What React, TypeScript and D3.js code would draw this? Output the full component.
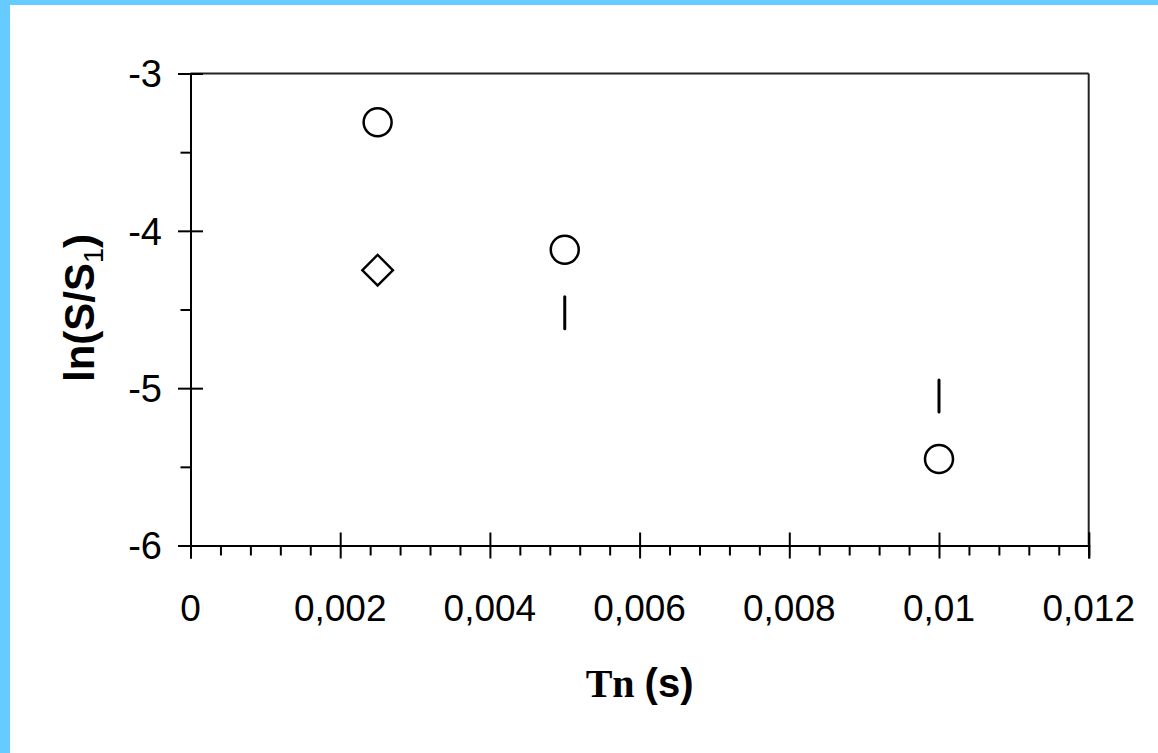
import React, { useEffect, useRef } from 'react';
import * as d3 from 'd3';

// values
const xTicks = [0, 0.002, 0.004, 0.006, 0.008, 0.01, 0.012];
const xTickLabels = ['0', '0,002', '0,004', '0,006', '0,008', '0,01', '0,012'];
const yTicks = [-3, -4, -5, -6];
const yMinorTicks = [-3.5, -4.5, -5.5];

const circleX = [0.0025, 0.005, 0.01];
const circleY = [-3.31, -4.12, -5.45];
const diamondX = [0.0025];
const diamondY = [-4.25];
const barX = [0.005, 0.01];
const barY = [-4.52, -5.05];

const App: React.FC = () => {
  const svgRef = useRef<SVGSVGElement>(null);

  useEffect(() => {
    if (!svgRef.current) return;
    const svg = d3.select(svgRef.current);
    svg.selectAll('*').remove();

    const width = 1158;
    const height = 753;

    // blue frame on the left and top
    svg.append('rect').attr('width', width).attr('height', height).attr('fill', '#66CCFF');
    svg.append('rect').attr('x', 10).attr('y', 5).attr('width', width - 10).attr('height', height - 5).attr('fill', '#fff');

    const x = d3.scaleLinear().domain([0, 0.012]).range([190.5, 1088.7]);
    const y = d3.scaleLinear().domain([-6, -3]).range([545.5, 73.5]);

    const g = svg.append('g');

    // box: top and right
    g.append('line')
      .attr('x1', x(0)).attr('x2', x(0.012))
      .attr('y1', y(-3)).attr('y2', y(-3))
      .attr('stroke', '#222').attr('stroke-width', 2);
    g.append('line')
      .attr('x1', x(0.012)).attr('x2', x(0.012))
      .attr('y1', y(-3)).attr('y2', y(-6))
      .attr('stroke', '#222').attr('stroke-width', 2);

    // y axis
    const yAxis = g.append('g').attr('transform', `translate(${x(0)},0)`);
    yAxis.call(d3.axisLeft(y).tickValues(yTicks).tickSize(12.5).tickFormat(() => ''));
    yAxis.append('g').call(d3.axisRight(y).tickValues(yTicks).tickSize(12.5).tickFormat(() => ''));
    yAxis.append('g').call(d3.axisLeft(y).tickValues(yMinorTicks).tickSize(10).tickFormat(() => ''));
    yAxis.selectAll('.domain').attr('stroke', '#000').attr('stroke-width', 2);
    yAxis.selectAll('.tick line').attr('stroke', '#000').attr('stroke-width', 2);

    g.selectAll('.ylab')
      .data(yTicks)
      .enter()
      .append('text')
      .attr('class', 'ylab')
      .attr('x', 162)
      .attr('y', d => y(d))
      .attr('dy', '0.36em')
      .attr('text-anchor', 'end')
      .attr('font-family', '"Liberation Sans", Arial, sans-serif')
      .attr('font-size', 38)
      .text(d => `${d}`);

    // x axis
    const xMinor = d3.range(0, 31).map(i => i * 0.0004).filter((_, i) => i % 5 !== 0);
    const xAxis = g.append('g').attr('transform', `translate(0,${y(-6)})`);
    xAxis.call(d3.axisBottom(x).tickValues(xTicks).tickSize(13).tickFormat(() => ''));
    xAxis.append('g').call(d3.axisTop(x).tickValues(xTicks).tickSize(13).tickFormat(() => ''));
    xAxis.append('g').call(d3.axisBottom(x).tickValues(xMinor).tickSize(10).tickFormat(() => ''));
    xAxis.selectAll('.domain').attr('stroke', '#000').attr('stroke-width', 2);
    xAxis.selectAll('.tick line').attr('stroke', '#000').attr('stroke-width', 2);

    g.selectAll('.xlab')
      .data(xTicks)
      .enter()
      .append('text')
      .attr('class', 'xlab')
      .attr('x', d => x(d))
      .attr('y', 621)
      .attr('text-anchor', 'middle')
      .attr('font-family', '"Liberation Sans", Arial, sans-serif')
      .attr('font-size', 37)
      .text((_, i) => xTickLabels[i]);

    // axis titles
    const xt = g.append('text')
      .attr('x', 639.6)
      .attr('y', 697)
      .attr('text-anchor', 'middle')
      .attr('font-weight', 'bold')
      .attr('font-size', 40);
    xt.append('tspan').attr('font-family', '"Liberation Serif", "Times New Roman", serif').text('Tn ');
    xt.append('tspan').attr('font-family', '"Liberation Sans", Arial, sans-serif').text('(s)');

    const yt = g.append('text')
      .attr('transform', `translate(94,308) rotate(-90)`)
      .attr('text-anchor', 'middle')
      .attr('font-family', '"Liberation Sans", Arial, sans-serif')
      .attr('font-weight', 'bold')
      .attr('font-size', 42);
    yt.append('tspan').text('ln(S/S');
    yt.append('tspan').attr('font-size', 27).attr('font-weight', 'normal').attr('dy', 9).text('1');
    yt.append('tspan').attr('dy', -9).text(')');

    // markers
    g.selectAll('.circ')
      .data(circleX.map((cx, i) => ({ cx, cy: circleY[i] })))
      .enter()
      .append('circle')
      .attr('cx', d => x(d.cx))
      .attr('cy', d => y(d.cy))
      .attr('r', 14)
      .attr('fill', 'none')
      .attr('stroke', '#000')
      .attr('stroke-width', 2.5);

    const diamond = d3.symbol().type(d3.symbolSquare).size(17 * 17 * 2);
    g.selectAll('.dia')
      .data(diamondX.map((dx, i) => ({ dx, dy: diamondY[i] })))
      .enter()
      .append('path')
      .attr('d', diamond)
      .attr('transform', d => `translate(${x(d.dx)},${y(d.dy)}) rotate(45) scale(0.9)`)
      .attr('fill', 'none')
      .attr('stroke', '#000')
      .attr('stroke-width', 2.7);

    g.selectAll('.bar')
      .data(barX.map((bx, i) => ({ bx, by: barY[i] })))
      .enter()
      .append('line')
      .attr('x1', d => x(d.bx))
      .attr('x2', d => x(d.bx))
      .attr('y1', d => y(d.by) - 16)
      .attr('y2', d => y(d.by) + 16)
      .attr('stroke', '#000')
      .attr('stroke-width', 3)
      .attr('stroke-linecap', 'round');
  }, []);

  return (
    <div style={{ position: 'fixed', left: 0, top: 0, width: 1158, height: 753 }}>
      <svg ref={svgRef} width={1158} height={753} style={{ display: 'block' }}></svg>
    </div>
  );
};

export default App;
